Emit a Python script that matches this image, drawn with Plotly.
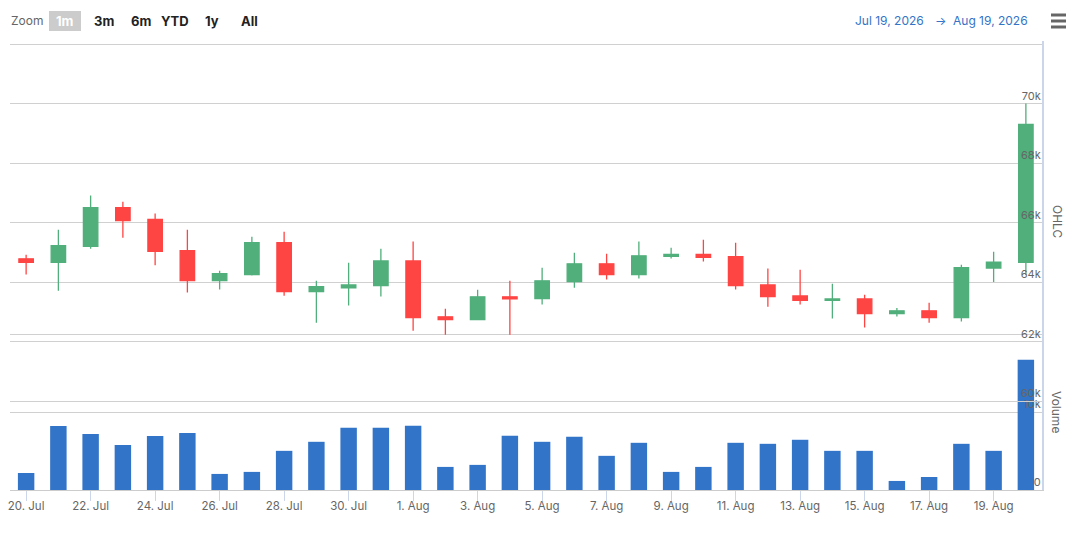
import plotly.graph_objects as go

# daily candles, 20 Jul .. 20 Aug 2026
dates = [
    "2026-07-20", "2026-07-21", "2026-07-22", "2026-07-23", "2026-07-24",
    "2026-07-25", "2026-07-26", "2026-07-27", "2026-07-28", "2026-07-29",
    "2026-07-30", "2026-07-31", "2026-08-01", "2026-08-02", "2026-08-03",
    "2026-08-04", "2026-08-05", "2026-08-06", "2026-08-07", "2026-08-08",
    "2026-08-09", "2026-08-10", "2026-08-11", "2026-08-12", "2026-08-13",
    "2026-08-14", "2026-08-15", "2026-08-16", "2026-08-17", "2026-08-18",
    "2026-08-19", "2026-08-20",
]
open_ = [64780, 64660, 65200, 66500, 66100, 65050, 64050, 64250, 65320, 63680,
         63800, 63880, 64710, 62830, 62740, 63500, 63440, 64010, 64610, 64250,
         64860, 64930, 64850, 63900, 63530, 63380, 63430, 62940, 63030, 62800,
         64470, 64660]
high = [64920, 65760, 66910, 66700, 66300, 65760, 64380, 65520, 65690, 64040,
        64650, 65120, 65360, 63100, 63740, 64040, 64480, 64980, 64950, 65360,
        65150, 65420, 65320, 64450, 64410, 63940, 63570, 63130, 63300, 64580,
        65020, 70000]
low = [64250, 63710, 65120, 65490, 64560, 63650, 63750, 64220, 63540, 62630,
       63210, 63510, 62360, 62230, 62720, 62230, 63240, 63810, 64080, 64120,
       64790, 64690, 63750, 63170, 63240, 62770, 62470, 62840, 62630, 62670,
       64000, 64240]
close = [64660, 65220, 66500, 66060, 65030, 64050, 64280, 65320, 63680, 63840,
         63900, 64710, 62800, 62740, 63500, 63430, 64040, 64610, 64250, 64880,
         64930, 64830, 63880, 63510, 63380, 63430, 62940, 63030, 62800, 64480,
         64670, 69300]
volume = [2180, 8200, 7180, 5770, 6920, 7310, 2060, 2320, 5020, 6180,
          7980, 7980, 8240, 2960, 3220, 6950, 6180, 6820, 4380, 6050,
          2320, 2960, 6050, 5920, 6440, 5020, 5020, 1160, 1670, 5920,
          5020, 16700]

ohlc_ticks = [60000, 62000, 64000, 66000, 68000, 70000, 72000]
ohlc_ticktext = ["60k", "62k", "64k", "66k", "68k", "70k", ""]
vol_ticks = [0, 10000, 20000]
vol_ticktext = ["0", "10k", ""]
zoom_buttons = ["1m", "3m", "6m", "YTD", "1y", "All"]
zoom_button_x = [65, 104, 141, 175, 212, 249]

UP = "#51af7b"
DOWN = "#ff4444"
BLUE = "#3274c8"
GRID = "#d0d0d0"
FONT = "Inter"

W, H = 1080, 534
L, R, T, B = 10, 38, 41, 44


def px(x, y):
    # pixel position -> paper coords
    return (x - L) / (W - L - R), (H - B - y) / (H - T - B)


# OHLC pane: 72k at y=44px, 60k at y=401px; pad a few pixels so the edge gridlines survive
ohlc_top_px, ohlc_bot_px = 41, 404
per_px = 12000 / (401 - 44)
ohlc_range = [72000 - (ohlc_bot_px - 44) * per_px, 72000 - (ohlc_top_px - 44) * per_px]
# volume pane: 0 at 490px, 20k at 334px
vol_top_px = 330
vol_range = [0, 20000 * (490 - vol_top_px) / (490 - 334)]

fig = go.Figure()

fig.add_trace(go.Candlestick(
    x=dates, open=open_, high=high, low=low, close=close,
    xaxis="x2", yaxis="y",
    increasing=dict(line=dict(color=UP, width=1.3), fillcolor=UP),
    decreasing=dict(line=dict(color=DOWN, width=1.3), fillcolor=DOWN),
    showlegend=False,
    name="OHLC"))

fig.add_trace(go.Bar(
    x=dates, y=volume,
    xaxis="x", yaxis="y2",
    marker=dict(color=BLUE, line=dict(width=0)),
    showlegend=False,
    name="Volume"))

xrange = ["2026-07-19 12:00", "2026-08-20 12:00"]

annotations = []
shapes = []


def label(txt, x, y, size=12, color="#666666", angle=0):
    ax, ay = px(x, y)
    annotations.append(dict(x=ax, y=ay, xref="paper", yref="paper", text=txt,
                            xanchor="center", yanchor="middle", textangle=angle,
                            showarrow=False, font=dict(size=size, color=color)))


# range selector look-alike
label("Zoom", 27, 21)
x0, y0 = px(49, 31)
x1, y1 = px(81, 11)
shapes.append(dict(type="rect", xref="paper", yref="paper", x0=x0, y0=y0, x1=x1, y1=y1,
                   fillcolor="#cccccc", line=dict(width=0), layer="below"))
for i, (lab, bx) in enumerate(zip(zoom_buttons, zoom_button_x)):
    label("<b>" + lab + "</b>", bx, 21, size=13,
          color="#ffffff" if i == 0 else "#222222")

# date range display
label("Jul 19, 2026", 889, 21, color=BLUE)
label("→", 940, 21, color=BLUE)
label("Aug 19, 2026", 990, 21, color=BLUE)

# hamburger menu
for hy in [15, 21, 27]:
    hx0, hyy = px(1051, hy)
    hx1, _ = px(1066, hy)
    shapes.append(dict(type="line", xref="paper", yref="paper", x0=hx0, x1=hx1,
                       y0=hyy, y1=hyy, line=dict(color="#666666", width=3)))

# right side axis titles
label("OHLC", 1057, 222, angle=90)
label("Volume", 1057, 412, angle=90)

fig.update_layout(
    width=W, height=H,
    margin=dict(l=L, r=R, t=T, b=B, autoexpand=False),
    paper_bgcolor="white",
    plot_bgcolor="rgba(0,0,0,0)",
    font=dict(family=FONT, color="#666666", size=11),
    bargap=0.49,
    boxgap=0.36,
    xaxis=dict(
        type="date", range=xrange, anchor="y2",
        tickformat="%-d. %b", tick0="2026-07-20", dtick=2 * 86400000,
        ticks="outside", ticklen=10, tickcolor="#ccd6eb", tickwidth=1,
        ticklabelstandoff=-5,
        showgrid=False, zeroline=False,
        showline=True, linecolor="#cccccc", linewidth=1,
        tickfont=dict(size=11.5, color="#666666"),
        rangeslider=dict(visible=False),
    ),
    xaxis2=dict(
        type="date", range=xrange, matches="x", anchor="y",
        showticklabels=False, showgrid=False, zeroline=False, showline=False,
        ticks="", rangeslider=dict(visible=False),
    ),
    yaxis=dict(
        domain=[px(0, ohlc_bot_px)[1], 1], range=ohlc_range, side="right",
        tickvals=ohlc_ticks, ticktext=ohlc_ticktext,
        ticklabelposition="inside top", ticks="",
        showgrid=True, gridcolor=GRID, gridwidth=1, zeroline=False,
        showline=True, linecolor="#ccd6eb", linewidth=1.5,
        tickfont=dict(size=11, color="#666666"),
        anchor="x2",
    ),
    yaxis2=dict(
        domain=[0, px(0, vol_top_px)[1]], range=vol_range, side="right",
        tickvals=vol_ticks, ticktext=vol_ticktext,
        ticklabelposition="inside top", ticks="",
        showgrid=True, gridcolor=GRID, gridwidth=1, zeroline=False,
        showline=True, linecolor="#ccd6eb", linewidth=1.5,
        tickfont=dict(size=11, color="#666666"),
        anchor="x",
    ),
    annotations=annotations,
    shapes=shapes,
)

fig.write_html("out.html", config=dict(displayModeBar=False),
               post_script="document.body.style.margin='0';")
